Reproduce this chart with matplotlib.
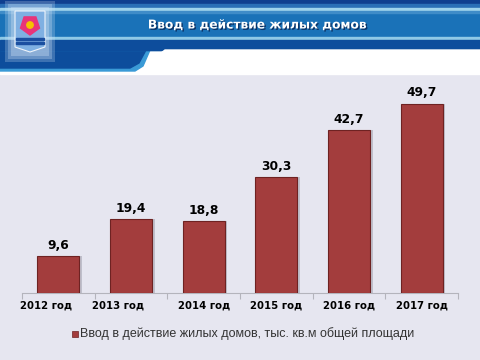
import matplotlib
matplotlib.use("Agg")
import matplotlib.pyplot as plt
from matplotlib.patches import Rectangle, Polygon, Circle, RegularPolygon
import matplotlib.patheffects as pe

categories = ["2012 год", "2013 год", "2014 год", "2015 год", "2016 год", "2017 год"]
values = [9.6, 19.4, 18.8, 30.3, 42.7, 49.7]
value_labels = ["9,6", "19,4", "18,8", "30,3", "42,7", "49,7"]
series_name = "Ввод в действие жилых домов, тыс. кв.м общей площади"
title = "Ввод в действие жилых домов"

W, H = 480, 360
fig = plt.figure(figsize=(4.8, 3.6), dpi=100)
fig.patch.set_facecolor("#e6e6f0")

# decorative overlay in pixel coordinates
bg = fig.add_axes([0, 0, 1, 1], zorder=0)
bg.set_xlim(0, W)
bg.set_ylim(H, 0)
bg.axis("off")
bg.add_patch(Rectangle((0, 0), W, 74, color="white", zorder=0))
# left lower blue swoosh
bg.add_patch(Polygon([(0, 40), (160, 40), (150, 50), (143, 66), (135, 71), (0, 71)],
                     closed=True, color="#3a9ad6", zorder=1))
bg.add_patch(Polygon([(0, 40), (155, 40), (146, 50), (139, 63), (130, 68), (0, 68)],
                     closed=True, color="#0d4d9c", zorder=1))
# header bands
bg.add_patch(Rectangle((0, 0), W, 50, color="#1a72b8", zorder=2))
bg.add_patch(Rectangle((0, 0), W, 4, color="#0f3f8f", zorder=3))
bg.add_patch(Rectangle((0, 4), W, 4, color="#2a6fb6", zorder=3))
bg.add_patch(Rectangle((0, 8), W, 3, color="#9fd3ec", zorder=3))
bg.add_patch(Rectangle((0, 11), W, 2, color="#3f8cc8", zorder=3))
bg.add_patch(Rectangle((0, 37), W, 3, color="#8fc9e6", zorder=3))
bg.add_patch(Rectangle((0, 40), W, 10, color="#0d4d9c", zorder=3))
# white panel with rounded left corner
bg.add_patch(Polygon([(165, 50), (W, 50), (W, 74), (150, 74), (152, 60)],
                     closed=True, color="white", zorder=4))
# logo glow and shield
for pad, a in [(10, 0.25), (7, 0.3), (4, 0.35)]:
    bg.add_patch(Rectangle((15 - pad, 11 - pad), 30 + 2 * pad, 41 + 2 * pad,
                           color="#cfe2f6", alpha=a, lw=0, zorder=5))
bg.add_patch(Polygon([(15, 11), (45, 11), (45, 47), (30, 52), (15, 47)],
                     closed=True, facecolor="#7fb0e2", edgecolor="#eef4fb", lw=0.8, zorder=6))
bg.add_patch(RegularPolygon((30, 25), 5, radius=10, color="#e8357a", zorder=7))
bg.add_patch(Circle((30, 25), 3.2, color="#f5c400", zorder=8))
bg.add_patch(Rectangle((16, 38), 28, 2, color="#1b4fa0", zorder=7))
bg.add_patch(Rectangle((16, 42), 28, 2, color="#1b4fa0", zorder=7))

bg.text(257, 25, title, ha="center", va="center", color="white", fontsize=8.8,
        fontweight="bold", family="DejaVu Sans", zorder=9,
        path_effects=[pe.withSimplePatchShadow(offset=(1, -1), shadow_rgbFace="#0a2e60", alpha=0.9)])

# chart axes
ax = fig.add_axes([22 / W, 1 - 292.5 / H, 436 / W, 228 / H], zorder=2)
ax.patch.set_alpha(0)
x = list(range(len(categories)))
ax.bar(x, values, width=0.58, color="#a33d3d", edgecolor="#6e2222", linewidth=0.8, zorder=3)
# shadow to the right
ax.bar([i + 0.035 for i in x], values, width=0.58, color="#9a9aa8", alpha=0.5, zorder=2, linewidth=0)

ax.set_xlim(-0.5, len(categories) - 0.5)
ax.set_ylim(0, 60)
for s in ["top", "right", "left"]:
    ax.spines[s].set_visible(False)
ax.spines["bottom"].set_color("#b4b4bc")
ax.spines["bottom"].set_linewidth(0.8)
ax.set_yticks([])
ax.set_xticks([i - 0.5 for i in range(len(categories) + 1)])
ax.set_xticklabels([])
ax.tick_params(axis="x", length=4, color="#b4b4bc", width=0.8)

label_shift = [-12, -13, 0, 0, 0, 0]  # pixel offsets of category labels
for i, (c, dx) in enumerate(zip(categories, label_shift)):
    ax.annotate(c, (i, 0), xytext=(dx * 0.72, -13.5 * 0.72), textcoords="offset points",
                ha="center", va="center", fontsize=7.3, fontweight="bold", color="#000000",
                family="DejaVu Sans", annotation_clip=False)

for i, (v, t) in enumerate(zip(values, value_labels)):
    ax.annotate(t, (i, v), xytext=(0, 3), textcoords="offset points",
                ha="center", va="bottom", fontsize=8.8, fontweight="bold", color="#000000",
                family="DejaVu Sans")

# legend
bg.add_patch(Rectangle((72, 331), 6, 6, facecolor="#a33d3d", edgecolor="#6e2222", lw=0.5, zorder=5))
bg.text(80, 334, series_name, ha="left", va="center", fontsize=9, color="#333333",
        family="Liberation Sans", zorder=5)

fig.savefig("out.png", dpi=100, facecolor=fig.get_facecolor())
